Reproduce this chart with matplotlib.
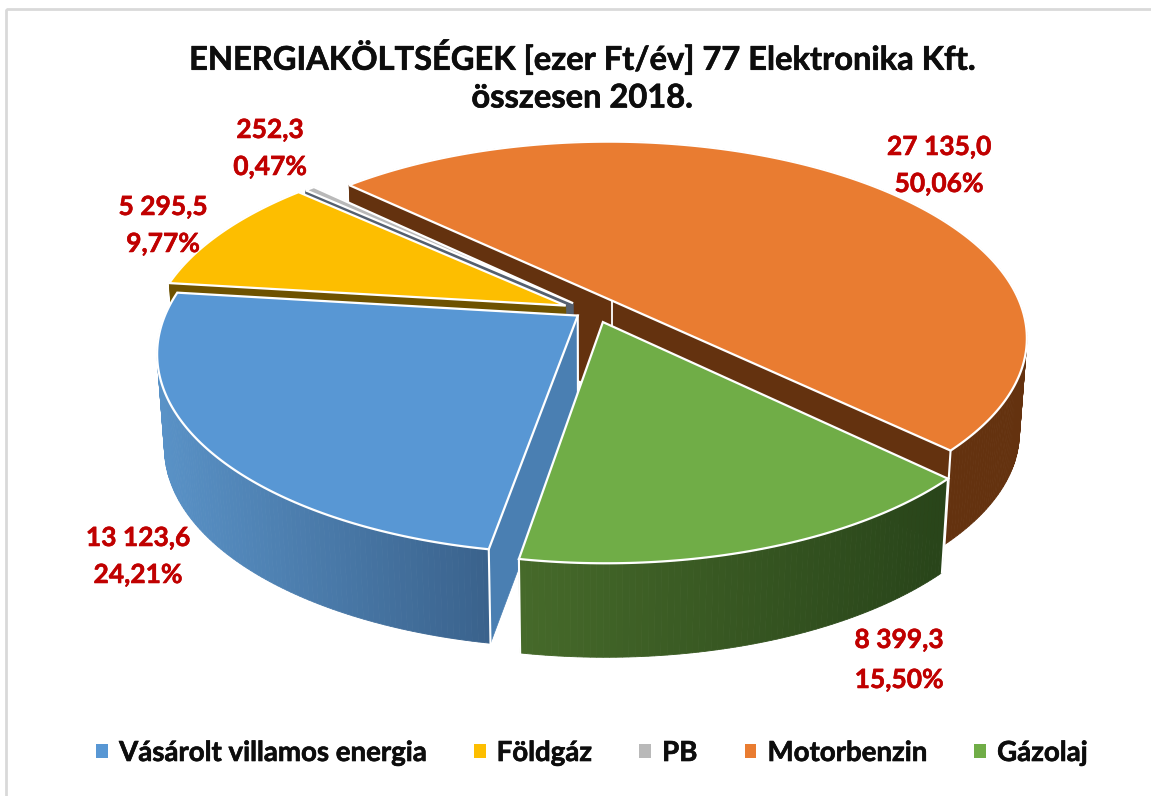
import numpy as np
import matplotlib
matplotlib.use("Agg")
import matplotlib.pyplot as plt
import matplotlib.patheffects as pe
from matplotlib.patches import Polygon, Patch, Rectangle
from matplotlib.colors import to_rgb

# ---- data
categories = ["Vásárolt villamos energia", "Földgáz", "PB", "Motorbenzin", "Gázolaj"]
values = [13123.6, 5295.5, 252.3, 27135.0, 8399.3]
value_labels = ["13 123,6", "5 295,5", "252,3", "27 135,0", "8 399,3"]
percent_labels = ["24,21%", "9,77%", "0,47%", "50,06%", "15,50%"]
title_lines = ["ENERGIAKÖLTSÉGEK [ezer Ft/év] 77 Elektronika Kft.", "összesen 2018."]

# ---- style
top_colors = ["#5897D4", "#FDBE00", "#B9B9B9", "#E97C31", "#70AD47"]
wall_left = ["#5A93C8", "#6E5200", "#55606F", "#64320F", "#466A2A"]
wall_right = ["#3A628C", "#6E5200", "#55606F", "#64320F", "#29451A"]
cut_colors = ["#4A7FB2", "#6E5200", "#55606F", "#64320F", "#2D4A1C"]
explode = [0.04, 0.068, 0.06, 0.075, 0.06]
nudge_u = [0.0, 0.0, 0.0, 0.0, 0.01]
paint_order = [3, 2, 1, 0, 4]   # layer of each slice, back to front
start_angle = 189.8
cx, cy, rx, ry, persp = 591.0, 311.0, 411.0, 192.0, 0.185
depth, squeeze = 94.0, 0.983
label_pos = [(138, 538, 575), (163, 207, 244), (270, 130, 167), (939, 147, 184), (899, 640, 680)]
red = "#C00000"
ink = "#0D0D0D"
font = "Lato"

fig = plt.figure(figsize=(11.51, 7.96), dpi=100)
ax = fig.add_axes([0, 0, 1, 1])
ax.set_xlim(0, 1151)
ax.set_ylim(796, 0)
ax.axis("off")

ax.add_patch(Rectangle((6, 9), 1300, 900, fill=False, ec="#D9D9D9", lw=2, zorder=0))

shares = np.array(values) / np.sum(values)
edges = start_angle + 360 * np.concatenate([[0], np.cumsum(shares)])


def project(u, v):
    d = 1 - persp * v
    return cx + rx * u / d, cy + ry * v / d


def lower(x, y, h=depth):
    return cx + (x - cx) * squeeze, y + h


def mix(a, b, t):
    a, b = np.array(to_rgb(a)), np.array(to_rgb(b))
    return tuple(a + (b - a) * t)


def draw_slice(i):
    z = paint_order[i] * 10 + 1
    a0, a1 = np.radians(edges[i]), np.radians(edges[i + 1])
    mid = (a0 + a1) / 2
    du, dv = explode[i] * np.sin(mid) + nudge_u[i], -explode[i] * np.cos(mid)
    t = np.linspace(a0, a1, max(int((a1 - a0) * 80), 6))
    rim_x, rim_y = project(np.sin(t) + du, -np.cos(t) + dv)
    tx, ty = project(du, dv)
    # outer wall with a gradient along x
    for j in range(len(t) - 1):
        f = np.clip((rim_x[j] - 150) / (490 - 150), 0, 1) if i == 0 else \
            np.clip((rim_x[j] - 520) / (940 - 520), 0, 1)
        c = mix(wall_left[i], wall_right[i], f)
        x2, y2 = lower(rim_x[j + 1], rim_y[j + 1])
        x1, y1 = lower(rim_x[j], rim_y[j])
        ax.add_patch(Polygon([(rim_x[j], rim_y[j]), (rim_x[j + 1], rim_y[j + 1]), (x2, y2), (x1, y1)],
                             fc=c, ec=c, lw=0.6, zorder=z))
    # cut walls (the last slice shows none of its own)
    if i != 4:
        for ex, ey in ((rim_x[0], rim_y[0]), (rim_x[-1], rim_y[-1])):
            b_tip = lower(tx, ty)
            b_end = lower(ex, ey)
            ax.add_patch(Polygon([(tx, ty), (ex, ey), b_end, b_tip], fc=cut_colors[i], ec=cut_colors[i],
                                 lw=0.5, zorder=z + 1))
    # white seams on the front corners
    for ex, ey in ((rim_x[0], rim_y[0]), (rim_x[-1], rim_y[-1])):
        if i in (0, 3, 4) and ey > 400:
            bx, by = lower(ex, ey)
            ax.plot([ex, bx], [ey, by], color="white", lw=1.5, zorder=z + 2)
    if i == 3:
        ax.plot([tx, tx], [ty, ty + depth], color="white", lw=1.3, zorder=z + 2)
    if i == 0:
        bx, by = lower(tx, ty)
        ax.plot([tx, bx], [ty, by], color="white", lw=1.5, zorder=z + 2)
    # top face
    pts = [(tx, ty)] + list(zip(rim_x, rim_y))
    ax.add_patch(Polygon(pts, fc=top_colors[i], ec="white", lw=1.6, joinstyle="miter", zorder=z + 3))


for i in range(len(values)):
    draw_slice(i)

heavy = [pe.withStroke(linewidth=0.4, foreground=red)]
for i, (x, y1, y2) in enumerate(label_pos):
    for y, s in ((y1, value_labels[i]), (y2, percent_labels[i])):
        ax.text(x, y, s, color=red, fontsize=19, fontweight="bold", family=font,
                ha="center", va="center", zorder=100, path_effects=heavy)

heavy_ink = [pe.withStroke(linewidth=0.45, foreground=ink)]
for y, s in zip((57, 98), title_lines):
    ax.text(582, y, s, fontsize=23.5, fontweight="bold", family=font, ha="center", va="center",
            color=ink, zorder=100, path_effects=heavy_ink)

handles = [Patch(fc=c, ec="none", label=n) for c, n in zip(top_colors, categories)]
leg = ax.legend(handles=handles, ncol=5, loc="center", bbox_to_anchor=(592 / 1151, 1 - 753 / 796),
                frameon=False, handlelength=0.42, handleheight=0.42, handletextpad=0.4,
                columnspacing=1.72, borderpad=0, prop={"family": font, "weight": "bold", "size": 19.9})
for t in leg.get_texts():
    t.set_color(ink)
    t.set_path_effects(heavy_ink)

fig.savefig("out.png", dpi=100)
